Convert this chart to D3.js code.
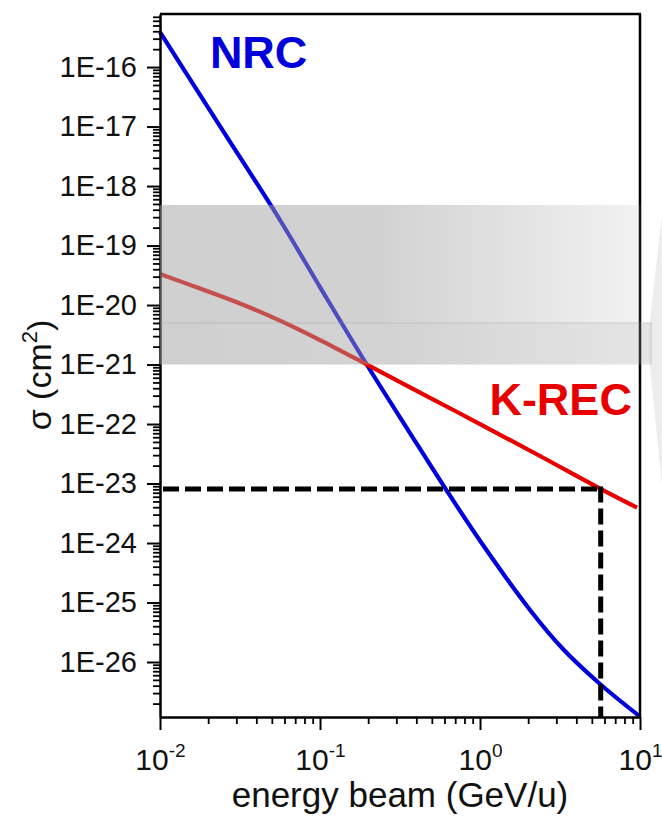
<!DOCTYPE html>
<html>
<head>
<meta charset="utf-8">
<script src="https://cdn.jsdelivr.net/npm/d3@7"></script>
<style>
  body { margin: 0; background: #fff; }
  svg { display: block; font-family: "Liberation Sans", Arial, sans-serif; }
</style>
</head>
<body>
<div id="chart"></div>
<script>
// values (energy in GeV/u, sigma in cm^2)
const nrcEnergy = [0.01, 0.0237, 0.0562, 0.1, 0.1967, 0.365, 0.622, 1.044, 2.054, 3.30, 5.623, 10];
const nrcSigma  = [3.87e-16, 1.02e-17, 2.69e-19, 2.0e-20, 9.82e-22, 7.06e-23, 7.48e-24, 9.25e-25, 7.48e-26, 1.65e-26, 4.27e-27, 1.21e-27];

const krecEnergy = [0.01, 0.0178, 0.0316, 0.0562, 0.1, 0.1967, 0.4217, 1.0, 2.371, 5.623, 9.58];
const krecSigma  = [3.32e-20, 1.89e-20, 1.06e-20, 5.48e-21, 2.58e-21, 1.0e-21, 3.38e-22, 1.0e-22, 2.90e-23, 8.24e-24, 3.95e-24];

// dashed marker (energy, sigma)
const markerEnergy = 5.68;
const markerSigma = 8.1e-24;

// shaded band
const bandTop = 4.8e-19, bandMid = 5e-21, bandBottom = 1e-21;
const bandUpperEnd = 10.1, bandLowerEnd = 11.9;

const xTicks = [0.01, 0.1, 1, 10];
const xTickExp = ["-2", "-1", "0", "1"];
const yTicks = [1e-16, 1e-17, 1e-18, 1e-19, 1e-20, 1e-21, 1e-22, 1e-23, 1e-24, 1e-25, 1e-26];

const W = 662, H = 817;
const margin = {top: 14, right: 22, bottom: 100, left: 160};

const svg = d3.select("#chart").append("svg")
  .attr("width", W)
  .attr("height", H);

const x = d3.scaleLog().domain([0.01, 10]).range([margin.left, W - margin.right]);
const y = d3.scaleLog().domain([1.19e-27, 7.8e-16]).range([H - margin.bottom, margin.top]);

// minor ticks
const xMinor = [];
[0.01, 0.1, 1].forEach(d => { for (let k = 2; k <= 9; k++) xMinor.push(d * k); });
const yMinor = [];
for (let e = -28; e <= -16; e++) {
  for (let k = 2; k <= 9; k++) {
    const v = k * Math.pow(10, e);
    if (v >= y.domain()[0] && v <= y.domain()[1]) yMinor.push(v);
  }
}

// curves
const line = d3.line()
  .x(d => x(d[0]))
  .y(d => y(d[1]))
  .curve(d3.curveCatmullRom.alpha(0.5));

svg.append("path")
  .datum(nrcEnergy.map((e, i) => [e, nrcSigma[i]]))
  .attr("d", line)
  .attr("fill", "none")
  .attr("stroke", "#0000dc")
  .attr("stroke-width", 4.2);

svg.append("path")
  .datum(krecEnergy.map((e, i) => [e, krecSigma[i]]))
  .attr("d", line)
  .attr("fill", "none")
  .attr("stroke", "#e80000")
  .attr("stroke-width", 4.2);

// dashed marker lines
svg.append("line")
  .attr("x1", x(0.01)).attr("x2", x(markerEnergy))
  .attr("y1", y(markerSigma)).attr("y2", y(markerSigma))
  .attr("stroke", "#000").attr("stroke-width", 5)
  .attr("stroke-dasharray", "16,6").attr("stroke-dashoffset", -3);
svg.append("line")
  .attr("x1", x(markerEnergy)).attr("x2", x(markerEnergy))
  .attr("y1", y(markerSigma) - 2.5).attr("y2", y.range()[0])
  .attr("stroke", "#000").attr("stroke-width", 5)
  .attr("stroke-dasharray", "16,6");

// axes
const yAxis = svg.append("g")
  .attr("transform", `translate(${margin.left},0)`)
  .call(d3.axisLeft(y).tickValues(yTicks).tickSize(13).tickSizeOuter(0).tickPadding(10)
    .tickFormat(d => "1E" + Math.round(Math.log10(d))));
svg.append("g")
  .attr("transform", `translate(${margin.left},0)`)
  .call(d3.axisLeft(y).tickValues(yMinor).tickSize(7).tickSizeOuter(0).tickFormat(""))
  .call(g => g.select(".domain").remove())
  .selectAll("line").attr("stroke-width", 1.8);

const xAxis = svg.append("g")
  .attr("transform", `translate(0,${H - margin.bottom})`)
  .call(d3.axisBottom(x).tickValues(xTicks).tickSize(13).tickSizeOuter(0).tickFormat(""));
svg.append("g")
  .attr("transform", `translate(0,${H - margin.bottom})`)
  .call(d3.axisBottom(x).tickValues(xMinor).tickSize(7).tickSizeOuter(0).tickFormat(""))
  .call(g => g.select(".domain").remove())
  .selectAll("line").attr("stroke-width", 1.8);

[yAxis, xAxis].forEach(g => {
  g.select(".domain").attr("stroke-width", 2.5);
  g.selectAll(".tick line").attr("stroke-width", 2);
});
yAxis.selectAll(".tick text")
  .attr("font-size", 29).attr("fill", "#111")
  .attr("font-family", "'Liberation Sans', Arial, sans-serif");

const xLab = xAxis.selectAll(".tick").append("text")
  .attr("y", 53)
  .attr("text-anchor", "middle")
  .attr("fill", "#111")
  .attr("font-size", 30)
  .attr("font-family", "'Liberation Sans', Arial, sans-serif");
xLab.append("tspan").text("10");
xLab.append("tspan").attr("font-size", 19).attr("dy", -13)
  .text((d, i) => xTickExp[i]);

// frame top / right
svg.append("line")
  .attr("x1", x.range()[0]).attr("x2", x.range()[1] + 1)
  .attr("y1", y.range()[1]).attr("y2", y.range()[1])
  .attr("stroke", "#000").attr("stroke-width", 2.5);
svg.append("line")
  .attr("x1", x.range()[1]).attr("x2", x.range()[1])
  .attr("y1", y.range()[1]).attr("y2", y.range()[0])
  .attr("stroke", "#000").attr("stroke-width", 2.5);

// band gradients
const defs = svg.append("defs");
function grad(id, x2, stops) {
  const g = defs.append("linearGradient").attr("id", id)
    .attr("gradientUnits", "userSpaceOnUse")
    .attr("x1", x(0.01)).attr("x2", x2).attr("y1", 0).attr("y2", 0);
  stops.forEach(s => g.append("stop").attr("offset", s[0])
    .attr("stop-color", "#a0a0a0").attr("stop-opacity", s[1]));
}
grad("bandUp", x(bandUpperEnd), [[0, 0.5], [0.45, 0.48], [1, 0.14]]);
grad("bandLow", x(bandLowerEnd), [[0, 0.5], [0.5, 0.46], [1, 0.27]]);

// faint wedge at the right edge
svg.append("polygon")
  .attr("points", [[11.5, bandMid], [13.7, 3.26e-19], [13.7, 9.4e-24], [11.5, bandBottom]]
    .map(p => [x(p[0]), y(p[1])].join(",")).join(" "))
  .attr("fill", "#ededed");

svg.append("rect")
  .attr("x", x(0.01)).attr("y", y(bandTop))
  .attr("width", x(bandUpperEnd) - x(0.01))
  .attr("height", y(bandMid) - y(bandTop))
  .attr("fill", "url(#bandUp)");
svg.append("rect")
  .attr("x", x(0.01)).attr("y", y(bandMid))
  .attr("width", x(bandLowerEnd) - x(0.01))
  .attr("height", y(bandBottom) - y(bandMid))
  .attr("fill", "url(#bandLow)");
svg.append("line")
  .attr("x1", x(0.01)).attr("x2", x(bandLowerEnd))
  .attr("y1", y(bandMid)).attr("y2", y(bandMid))
  .attr("stroke", "#999").attr("stroke-opacity", 0.35).attr("stroke-width", 1);

// curve labels
svg.append("text")
  .attr("x", x(0.0205)).attr("y", y(1e-16) + 1)
  .attr("font-size", 45).attr("font-weight", "bold")
  .attr("fill", "#0000dc")
  .text("NRC");
svg.append("text")
  .attr("x", x(8.9)).attr("y", y(1.42e-22))
  .attr("text-anchor", "end")
  .attr("font-size", 45).attr("font-weight", "bold")
  .attr("fill", "#e80000")
  .text("K-REC");

// axis titles
svg.append("text")
  .attr("x", (x.range()[0] + x.range()[1]) / 2)
  .attr("y", 807)
  .attr("text-anchor", "middle")
  .attr("font-size", 35)
  .attr("fill", "#111")
  .text("energy beam (GeV/u)");

const yt = svg.append("text")
  .attr("transform", "translate(51,375) rotate(-90)")
  .attr("text-anchor", "middle")
  .attr("font-size", 34)
  .attr("fill", "#111");
yt.append("tspan").text("σ (cm");
yt.append("tspan").attr("font-size", 22).attr("dy", -14).text("2");
yt.append("tspan").attr("dy", 14).text(")");
</script>
</body>
</html>
